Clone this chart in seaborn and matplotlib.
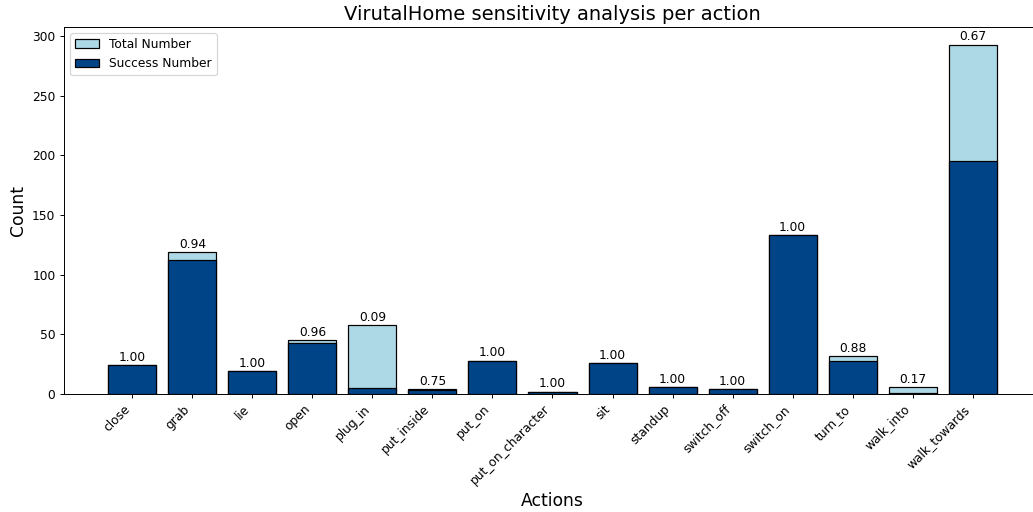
import matplotlib
matplotlib.use("Agg")
import matplotlib.pyplot as plt
import seaborn as sns

actions = ["close", "grab", "lie", "open", "plug_in", "put_inside", "put_on",
           "put_on_character", "sit", "standup", "switch_off", "switch_on",
           "turn_to", "walk_into", "walk_towards"]
total_number = [24, 119, 19, 45, 58, 4, 28, 2, 26, 6, 4, 133, 32, 6, 293]
success_number = [24, 112, 19, 43, 5, 3, 28, 2, 26, 6, 4, 133, 28, 1, 195]

# drawn at dpi 88 so the text comes out a bit smaller, like the reference
fig = plt.figure(figsize=(1033 / 88, 512 / 88), dpi=88)
ax = fig.add_axes([64 / 1033, 118 / 512, 977 / 1033, 367 / 512])

sns.barplot(x=actions, y=total_number, color="lightblue", saturation=1,
            edgecolor="black", linewidth=1, width=0.8, label="Total Number", ax=ax)
sns.barplot(x=actions, y=success_number, color="#004488", saturation=1,
            edgecolor="black", linewidth=1, width=0.8, label="Success Number", ax=ax)

for i, (t, s) in enumerate(zip(total_number, success_number)):
    ax.text(i, t + 1, f"{s / t:.2f}", ha="center", va="bottom", fontsize=10)

ax.set_xlim(-1.14, 15.14)
ax.set_ylim(0, 307.7)
ax.set_title("VirutalHome sensitivity analysis per action", fontsize=16)
ax.set_xlabel("Actions", fontsize=14)
ax.set_ylabel("Count", fontsize=14)
plt.setp(ax.get_xticklabels(), rotation=45, ha="right")
ax.legend(loc="upper left")

fig.savefig("out.png", dpi=88)
